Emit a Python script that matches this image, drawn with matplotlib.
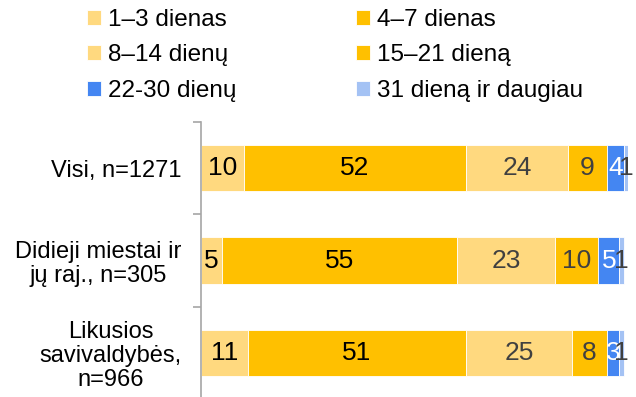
import matplotlib.pyplot as plt

plt.rcParams['font.family'] = ['Liberation Sans', 'DejaVu Sans']

groups = ['Visi, n=1271', 'Didieji miestai ir\njų raj., n=305',
          'Likusios\nsavivaldybės,\nn=966']
series = ['1–3 dienas', '4–7 dienas', '8–14 dienų', '15–21 dieną',
          '22-30 dienų', '31 dieną ir daugiau']
values = [
    [10, 5, 11],
    [52, 55, 51],
    [24, 23, 25],
    [9, 10, 8],
    [4, 5, 3],
    [1, 1, 1],
]
colors = ['#FFD97F', '#FFC000', '#FFD97F', '#FFC000', '#4486F2', '#A4C2F4']
label_colors = ['#000000', '#000000', '#404040', '#404040', '#FFFFFF', '#404040']

fig = plt.figure(figsize=(6.36, 3.97), dpi=100)
ax = fig.add_axes([201 / 636, -2 / 397, 427 / 636, 277 / 397])

ypos = list(range(len(groups)))
left = [0] * len(groups)
handles = []
for vals, name, col, tcol in zip(values, series, colors, label_colors):
    bars = ax.barh(ypos, vals, left=left, height=0.5, color=col,
                   edgecolor='white', linewidth=0.6, label=name)
    ax.bar_label(bars, labels=[str(v) for v in vals], label_type='center',
                 color=tcol, fontsize=19)
    handles.append(bars)
    left = [l + v for l, v in zip(left, vals)]

ax.set_xlim(0, 100)
ax.set_ylim(2.5, -0.5)

# category boundaries get the tick marks, names sit between them
ax.set_yticks([-0.5, 0.5, 1.5, 2.5])
ax.set_yticklabels([])
ax.tick_params(axis='y', which='major', length=6, color='#A6A6A6', width=1.2)
ax.set_yticks(ypos, minor=True)
ax.set_yticklabels(groups, minor=True, fontsize=17, ha='right',
                   multialignment='center', linespacing=1.1)
ax.tick_params(axis='y', which='minor', length=0, pad=14)
ax.set_xticks([])

for s in ['top', 'right', 'bottom']:
    ax.spines[s].set_visible(False)
ax.spines['left'].set_color('#A6A6A6')
ax.spines['left'].set_linewidth(1.2)

# row-major order for the two-column legend
order = [0, 2, 4, 1, 3, 5]
fig.legend([handles[i] for i in order], [series[i] for i in order],
           ncol=2, loc='upper left', bbox_to_anchor=(87 / 636, 1 - 9 / 397),
           frameon=False, fontsize=17.5, handlelength=0.58, handleheight=0.58,
           handletextpad=0.29, columnspacing=4.9, labelspacing=0.55,
           borderpad=0, borderaxespad=0)

fig.savefig('out.png', dpi=100)
